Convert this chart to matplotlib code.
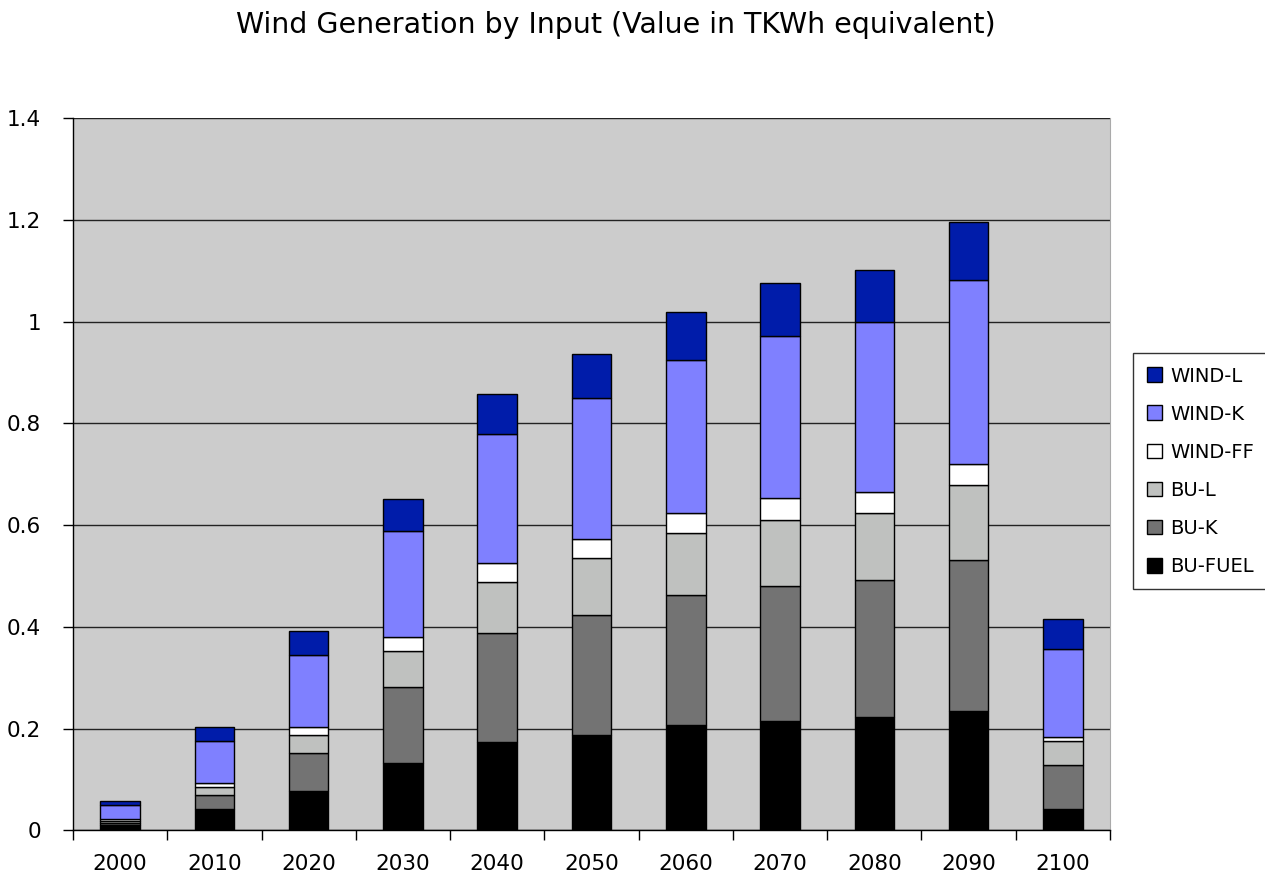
import numpy as np
import matplotlib
matplotlib.use('Agg')
import matplotlib.pyplot as plt

years = ['2000', '2010', '2020', '2030', '2040', '2050',
         '2060', '2070', '2080', '2090', '2100']
series = ['BU-FUEL', 'BU-K', 'BU-L', 'WIND-FF', 'WIND-K', 'WIND-L']
bu_fuel = [0.011, 0.043, 0.078, 0.133, 0.173, 0.188,
           0.207, 0.216, 0.223, 0.235, 0.042]
bu_k = [0.004, 0.026, 0.074, 0.149, 0.215, 0.235,
        0.255, 0.265, 0.270, 0.297, 0.086]
bu_l = [0.004, 0.017, 0.035, 0.070, 0.101, 0.113,
        0.122, 0.130, 0.130, 0.146, 0.048]
wind_ff = [0.003, 0.007, 0.016, 0.028, 0.036, 0.037,
           0.040, 0.043, 0.043, 0.043, 0.008]
wind_k = [0.028, 0.082, 0.141, 0.208, 0.255, 0.277,
          0.300, 0.318, 0.333, 0.360, 0.172]
wind_l = [0.008, 0.028, 0.048, 0.063, 0.078, 0.087,
          0.095, 0.103, 0.102, 0.115, 0.060]
colors = ['#000000', '#737373', '#bfc1bf', '#ffffff', '#7f80ff', '#001caa']
yticks = [0, 0.2, 0.4, 0.6, 0.8, 1.0, 1.2, 1.4]
ytick_labels = ['0', '0.2', '0.4', '0.6', '0.8', '1', '1.2', '1.4']

fig = plt.figure(figsize=(12.65, 8.82), dpi=100)
ax = fig.add_axes([0.0577, 0.0584, 0.8198, 0.8078])
ax.set_facecolor('#cccccc')

x = np.arange(len(years))
bottom = np.zeros(len(years))
handles = []
for name, vals, c in zip(series,
                         [bu_fuel, bu_k, bu_l, wind_ff, wind_k, wind_l],
                         colors):
    b = ax.bar(x, vals, width=0.42, bottom=bottom, color=c,
               edgecolor='black', linewidth=1.0, label=name, zorder=3)
    handles.append(b)
    bottom = bottom + np.array(vals)

ax.set_xlim(-0.5, len(years) - 0.5)
ax.set_ylim(0, 1.4)
ax.set_yticks(yticks)
ax.set_yticklabels(ytick_labels, fontsize=15.5)
ax.yaxis.grid(True, color='#222222', linewidth=1.0, zorder=1)
ax.tick_params(axis='y', direction='out', length=7, width=1, pad=16)

ax.set_xticks(np.arange(len(years) + 1) - 0.5)
ax.set_xticklabels([])
ax.set_xticks(x, minor=True)
ax.set_xticklabels(years, minor=True, fontsize=15.5)
ax.tick_params(axis='x', which='major', direction='out', length=7, width=1)
ax.tick_params(axis='x', which='minor', length=0, pad=17)

ax.spines['top'].set_visible(False)
ax.spines['right'].set_color('#aaaaaa')
ax.spines['left'].set_linewidth(1)
ax.spines['bottom'].set_linewidth(1)

fig.text(0.487, 0.972, 'Wind Generation by Input (Value in TKWh equivalent)',
         ha='center', va='center', fontsize=20.5,
         family=['Liberation Sans Narrow', 'DejaVu Sans'])

leg = fig.legend(handles[::-1], series[::-1], loc='upper left',
                 bbox_to_anchor=(0.8957, 0.5998), fontsize=14,
                 frameon=True, fancybox=False, edgecolor='black',
                 handlelength=0.8, handleheight=0.8, handletextpad=0.4,
                 labelspacing=0.98, borderpad=0.7, borderaxespad=0)
leg.get_frame().set_linewidth(1)

plt.savefig('out.png', dpi=100)
